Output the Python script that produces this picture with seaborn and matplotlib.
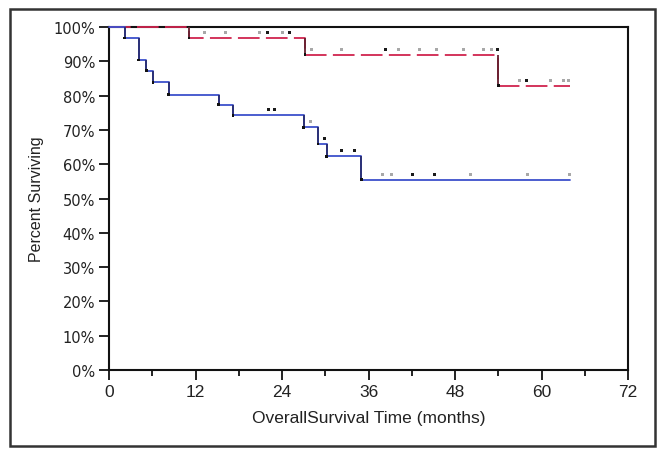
import numpy as np
import pandas as pd
import matplotlib
matplotlib.use("Agg")
import matplotlib.pyplot as plt
from matplotlib.patches import Rectangle
from matplotlib.ticker import MultipleLocator, FuncFormatter
import seaborn as sns

# ---- data ----
blue_times = [0, 2.2, 4.1, 5.2, 6.1, 8.3, 15.2, 17.2, 27.0, 29.0, 30.2, 35.0, 64.0]
blue_surv = [100, 96.8, 90.4, 87.3, 83.9, 80.3, 77.3, 74.3, 70.8, 65.9, 62.3, 55.5, 55.5]
red_times = [0, 11.1, 27.2, 54.0, 64.0]
red_surv = [100, 96.8, 91.9, 82.9, 82.9]

blue_cens = [22.1, 23.0, 28.0, 29.9, 32.3, 34.1, 38.0, 39.2, 42.1, 45.2, 50.2, 58.1, 63.9]
blue_cens_dark = [1, 1, 0, 1, 1, 1, 0, 0, 1, 1, 0, 0, 0]
red_cens = [13.2, 16.1, 20.9, 22.0, 24.1, 25.1, 28.1, 32.2, 38.3, 40.1, 43.1, 45.4,
            49.2, 51.9, 53.1, 53.9, 57.0, 57.9, 61.2, 63.0, 63.7]
red_cens_dark = [0, 0, 0, 1, 0, 1, 0, 0, 1, 0, 0, 0, 0, 0, 0, 1, 0, 1, 0, 0, 0]

x_ticks = [0, 12, 24, 36, 48, 60, 72]
y_ticks = [0, 10, 20, 30, 40, 50, 60, 70, 80, 90, 100]

BLUE = "#3d50cc"
RED = "#d0244e"

sns.set_style("ticks")
plt.rcParams["font.family"] = ["Liberation Sans", "DejaVu Sans"]

fig = plt.figure(figsize=(6.63, 4.56), dpi=100)
ax = fig.add_axes([109 / 663, 1 - 371 / 456, (628 - 109) / 663, (371 - 28) / 456])


def step_value(times, surv, t):
    idx = np.searchsorted(np.asarray(times), t, side="right") - 1
    return np.asarray(surv)[idx]


blue_df = pd.DataFrame({"t": blue_times, "s": blue_surv})
red_df = pd.DataFrame({"t": red_times, "s": red_surv})

sns.lineplot(data=red_df, x="t", y="s", ax=ax, color=RED, lw=1.3,
             drawstyle="steps-post", estimator=None, sort=False,
             dashes=False, linestyle=(0, (12, 3.5)), clip_on=False, zorder=3)
sns.lineplot(data=blue_df, x="t", y="s", ax=ax, color=BLUE, lw=1.3,
             drawstyle="steps-post", estimator=None, sort=False,
             clip_on=False, zorder=3.1)

# darker vertical drops
ax.vlines(blue_times[1:-1], blue_surv[1:-1], blue_surv[:-2], color="#2a2e70", lw=1.3, zorder=3.2)
ax.vlines(red_times[1:-1], red_surv[1:-1], red_surv[:-2], color="#62202f", lw=1.3, zorder=3.2)

# small dots at step corners
sns.scatterplot(x=blue_times[1:-1], y=blue_surv[1:-1], ax=ax, color="#111111", s=4,
                marker="s", edgecolor="none", zorder=4)
sns.scatterplot(x=red_times[1:-1], y=red_surv[1:-1], ax=ax, color="#111111", s=4,
                marker="s", edgecolor="none", zorder=4)

# censor marks (slightly above the curve)
off = 1.6
for times, surv, cens, dark in [(blue_times, blue_surv, blue_cens, blue_cens_dark),
                                (red_times, red_surv, red_cens, red_cens_dark)]:
    ys = [step_value(times, surv, c) + off for c in cens]
    cols = ["#1a1a1a" if d else "#a8a8a8" for d in dark]
    sns.scatterplot(x=cens, y=ys, ax=ax, c=cols, s=5, marker="s",
                    edgecolor="none", zorder=5)

ax.set_xlim(0, 72)
ax.set_ylim(0, 100)
ax.set_xticks(x_ticks)
ax.xaxis.set_minor_locator(MultipleLocator(6))
ax.set_yticks(y_ticks)
ax.yaxis.set_major_formatter(FuncFormatter(lambda v, p: f"{int(v)}%"))
ax.tick_params(axis="both", which="major", direction="out", length=7, width=1.3,
               colors="#111111", labelcolor="#222222", pad=3)
ax.tick_params(axis="x", which="minor", direction="out", length=4, width=1.3, colors="#111111")
for lab in ax.get_xticklabels():
    lab.set_fontsize(12.5)
    lab.set_family(["Liberation Sans", "DejaVu Sans"])
for lab in ax.get_yticklabels():
    lab.set_fontsize(10.5)
    lab.set_family(["DejaVu Sans"])
for sp in ax.spines.values():
    sp.set_visible(True)
    sp.set_linewidth(1.5)
    sp.set_color("#111111")

ax.set_xlabel("OverallSurvival Time (months)", fontsize=12.5, color="#222222", labelpad=8)
ax.set_ylabel("Percent Surviving", fontsize=11.5, color="#222222", labelpad=7)

# outer frame
fig.patches.append(Rectangle((10 / 663, 1 - 447 / 456), 645 / 663, 437 / 456,
                             transform=fig.transFigure, fill=False,
                             edgecolor="#333333", lw=1.8))

fig.savefig("out.png", dpi=100)
